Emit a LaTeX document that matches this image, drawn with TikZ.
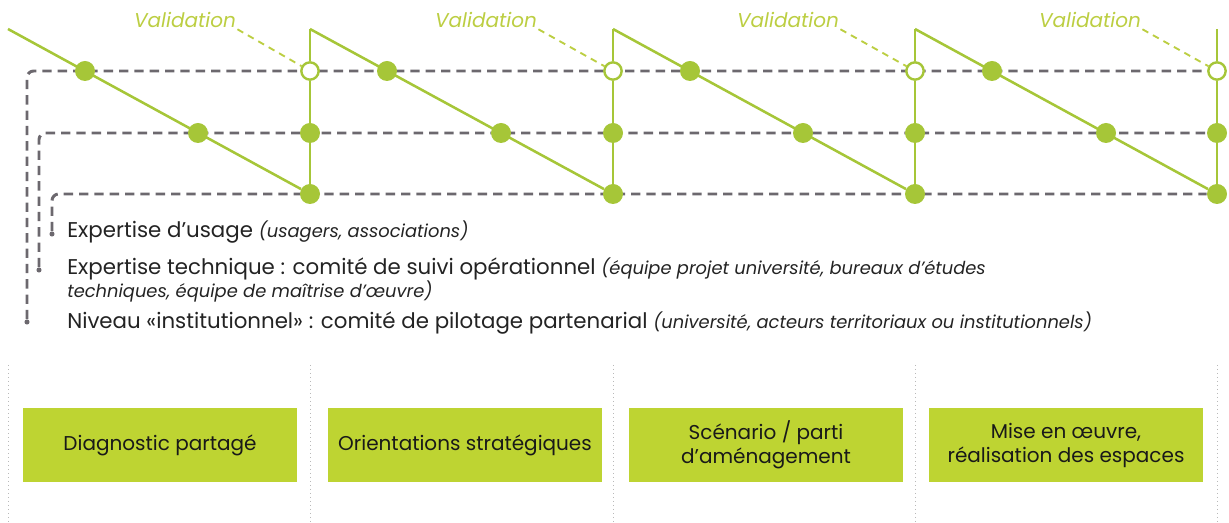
\documentclass[tikz,border=0pt]{standalone}
\usepackage{fontspec}
\setmainfont{Poppins}
\usetikzlibrary{backgrounds}
\definecolor{vert}{RGB}{166,198,56}
\definecolor{vertbox}{RGB}{190,212,50}
\definecolor{vertclair}{RGB}{188,206,66}
\definecolor{gris}{RGB}{108,104,110}
\definecolor{texte}{RGB}{35,35,35}
\tikzstyle{dot} = [circle, fill=vert, minimum size=15pt, inner sep=0pt]
\tikzstyle{hollow} = [circle, draw=vert, line width=1.8pt, fill=white, minimum size=13pt, inner sep=0pt]
\tikzstyle{puce} = [circle, fill=gris, minimum size=3.8pt, inner sep=0pt]
\tikzstyle{track} = [draw=gris, line width=2.2pt, dash pattern=on 7pt off 4.5pt, rounded corners=5pt]
\tikzstyle{flow} = [draw=vert, line width=1.9pt]
\tikzstyle{valline} = [draw=vertclair, line width=1.4pt, dash pattern=on 5pt off 4pt]
\tikzstyle{validation} = [text=vertclair, inner sep=1pt, font=\itshape\fontsize{15}{18}\selectfont]
\tikzstyle{legend} = [anchor=base west, inner sep=0pt, text=texte, font=\fontsize{16}{18}\selectfont]
\tikzstyle{phase} = [rectangle, fill=vertbox, minimum width=205pt, minimum height=55pt, align=center, text=black!90, font=\fontsize{15}{18}\selectfont]
\tikzstyle{sep} = [draw=gray!55, line width=0.7pt, dash pattern=on 0.8pt off 2.2pt]
\newcommand{\notefont}{\itshape\fontsize{13.4}{15}\selectfont}

\begin{document}
\begin{tikzpicture}[x=0.75pt, y=-0.75pt]
\useasboundingbox (0,0) rectangle (1229,523);

% start of each diagonal
\coordinate (s0) at (8,29);
\coordinate (s1) at (310,29);
\coordinate (s2) at (613,29);
\coordinate (s3) at (915,29);
\coordinate (s4) at (1217,29);

% validation points
\node (h1) [hollow] at (310,71) {};
\node (h2) [hollow] at (613,71) {};
\node (h3) [hollow] at (915,71) {};
\node (h4) [hollow] at (1217,71) {};

% dots on the three levels
\node (t1) [dot] at (85,71) {};
\node (t2) [dot] at (387,71) {};
\node (t3) [dot] at (690,71) {};
\node (t4) [dot] at (992,71) {};
\node (m1) [dot] at (198,133) {};
\node (m2) [dot] at (501,133) {};
\node (m3) [dot] at (803,133) {};
\node (m4) [dot] at (1106,133) {};
\node (v1) [dot] at (310,133) {};
\node (v2) [dot] at (613,133) {};
\node (v3) [dot] at (915,133) {};
\node (v4) [dot] at (1217,133) {};
\node (b1) [dot] at (310,194) {};
\node (b2) [dot] at (613,194) {};
\node (b3) [dot] at (915,194) {};
\node (b4) [dot] at (1217,194) {};

\node (val1) [validation] at (185,20) {Validation};
\node (val2) [validation] at (486,20) {Validation};
\node (val3) [validation] at (788,20) {Validation};
\node (val4) [validation] at (1090,20) {Validation};

% legend
\node (p1) [puce] at (52,234) {};
\node (p2) [puce] at (39,270) {};
\node (p3) [puce] at (27,322) {};
\node (l1) [legend] at (67,238) {Expertise d’usage {\notefont (usagers, associations)}};
\node (l2) [legend] at (67,275) {Expertise technique : comité de suivi opérationnel {\notefont (équipe projet université, bureaux d’études}};
\node (l2b) [legend, font=\notefont] at (67,298) {techniques, équipe de maîtrise d’œuvre)};
\node (l3) [legend] at (67,329) {Niveau «institutionnel» : comité de pilotage partenarial {\notefont (université, acteurs territoriaux ou institutionnels)}};

% phases
\node (ph1) [phase] at (160,445) {Diagnostic partagé};
\node (ph2) [phase] at (465,445) {Orientations stratégiques};
\node (ph3) [phase] at (766,445) {Scénario / parti\\d’aménagement};
\node (ph4) [phase] at (1066,445) {Mise en œuvre,\\réalisation des espaces};

\begin{scope}[on background layer]
\draw [track] (p3) |- (h4);
\draw [track] (p2) |- (v4);
\draw [track] (p1) |- (b4);

\draw [flow] (s0) -- (b1);
\draw [flow] (s1) -- (h1);
\draw [flow] (h1) -- (b1);
\draw [flow] (s1) -- (b2);
\draw [flow] (s2) -- (h2);
\draw [flow] (h2) -- (b2);
\draw [flow] (s2) -- (b3);
\draw [flow] (s3) -- (h3);
\draw [flow] (h3) -- (b3);
\draw [flow] (s3) -- (b4);
\draw [flow] (s4) -- (h4);
\draw [flow] (h4) -- (b4);

\draw [valline] (val1.south east) -- (h1);
\draw [valline] (val2.south east) -- (h2);
\draw [valline] (val3.south east) -- (h3);
\draw [valline] (val4.south east) -- (h4);

\draw [sep] (8,365) -- (8,522);
\draw [sep] (310,365) -- (310,522);
\draw [sep] (613,365) -- (613,522);
\draw [sep] (915,365) -- (915,522);
\draw [sep] (1217,365) -- (1217,522);
\end{scope}

\end{tikzpicture}
\end{document}
